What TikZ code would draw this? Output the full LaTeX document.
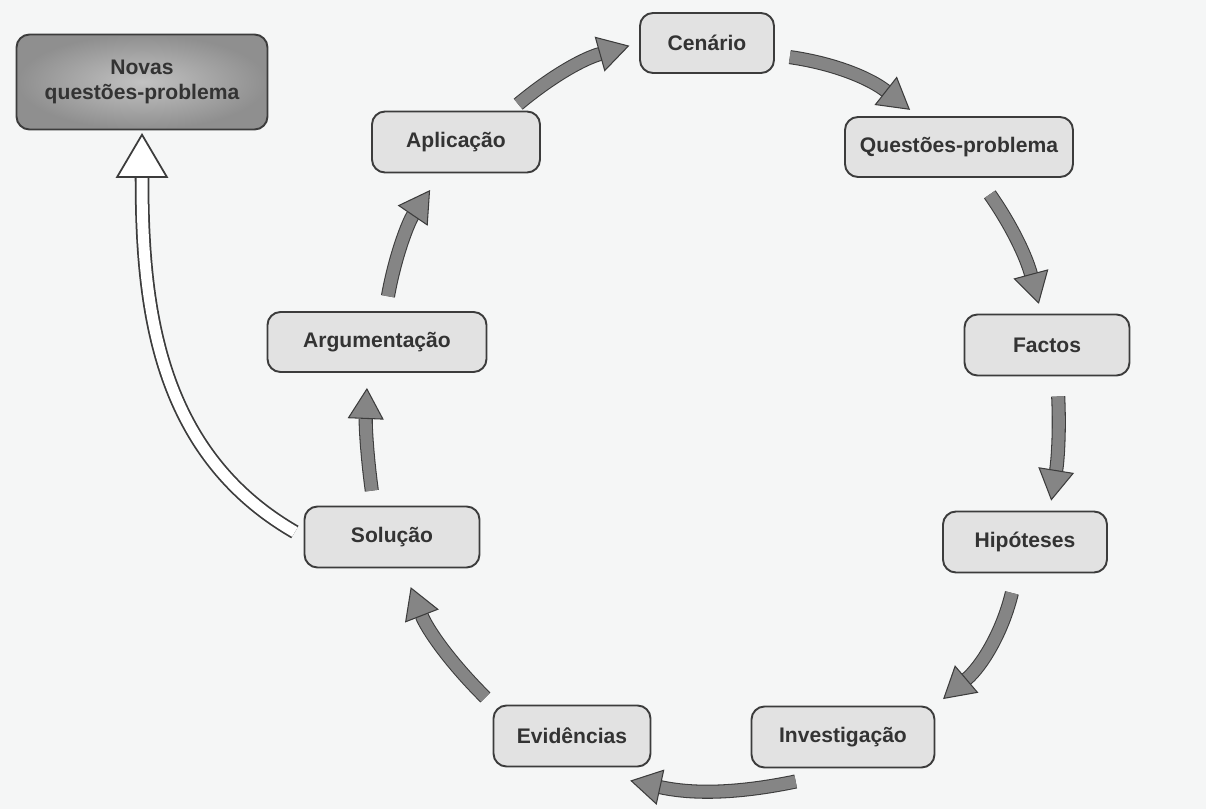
\documentclass[tikz,border=0pt]{standalone}
\usepackage{fontspec}
\setmainfont{Liberation Sans}
\usetikzlibrary{arrows.meta}
\definecolor{CycLine}{HTML}{3C3C3C}
\definecolor{CycFill}{HTML}{E2E2E2}
\definecolor{CycArrow}{HTML}{858585}
\definecolor{CycPaper}{HTML}{F5F6F6}
\definecolor{CycText}{HTML}{333333}

\begin{document}
\begin{tikzpicture}[every node/.style={font=\fontsize{12}{14}\selectfont\bfseries}, box/.style={draw=CycLine,line width=1.1pt,rounded corners=0.26cm,fill=CycFill,text=CycText,align=center,minimum height=1.22cm}, arr/.style={-{Triangle[length=0.62cm,width=0.72cm,fill=CycArrow,color=CycLine,line width=0.6pt]},draw=CycLine,line width=0.6pt,double=CycArrow,double distance=0.24cm,shorten >=0.2cm,shorten <=0.2cm}, back/.style={-{Triangle[length=0.9cm,width=1.05cm,fill=white,color=CycLine,line width=1pt]},draw=CycLine,line width=1pt,double=white,double distance=0.22cm,shorten >=0.05cm,shorten <=0.2cm}]
\fill[CycPaper] (0,0) rectangle (24.12,16.18);
\useasboundingbox (0,0) rectangle (24.12,16.18);
\node[box,minimum width=5.02cm,minimum height=1.9cm,inner color=black!24,outer color=black!44] (nova) at (2.84,14.54) {Novas\\questões-problema};
\node[box,minimum width=2.68cm,minimum height=1.2cm] (cen) at (14.14,15.32) {Cenário};
\node[box,minimum width=4.56cm,minimum height=1.2cm] (qp) at (19.18,13.24) {Questões-problema};
\node[box,minimum width=3.3cm] (fac) at (20.94,9.28) {Factos};
\node[box,minimum width=3.28cm] (hip) at (20.5,5.34) {Hipóteses};
\node[box,minimum width=3.66cm] (inv) at (16.86,1.44) {Investigação};
\node[box,minimum width=3.14cm] (evi) at (11.44,1.46) {Evidências};
\node[box,minimum width=3.5cm] (sol) at (7.84,5.44) {Solução};
\node[box,minimum width=4.38cm,minimum height=1.2cm] (arg) at (7.54,9.34) {Argumentação};
\node[box,minimum width=3.36cm] (apl) at (9.12,13.34) {Aplicação};
\draw[arr] (apl.30) to[bend left=12] (cen.west); \draw[arr,shorten <=0.3cm] (cen.-10) to[bend left=15] (qp.143); \draw[arr,shorten <=0.4cm] (qp.-58) to[bend left=10] (fac.100);
\draw[arr,shorten <=0.4cm] (fac.-72) to[bend left=6] (hip.52); \draw[arr,shorten <=0.4cm] (hip.-105) to[bend left=18] (inv.north east);
\draw[arr] ([yshift=-0.22cm]inv.-140) to[bend left=12] ([yshift=-0.22cm]evi.-33); \draw[arr,shorten >=0.4cm] (evi.north west) to[bend left=12] (sol.-70);
\draw[arr,shorten <=0.3cm,shorten >=0.3cm] (sol.120) to[bend left=5] (arg.-107); \draw[arr,shorten <=0.3cm,shorten >=0.4cm] (arg.75) to[bend left=12] (apl.-115);
\draw[back] (sol.west) to[out=150,in=-90] (nova.south);
\end{tikzpicture}
\end{document}
